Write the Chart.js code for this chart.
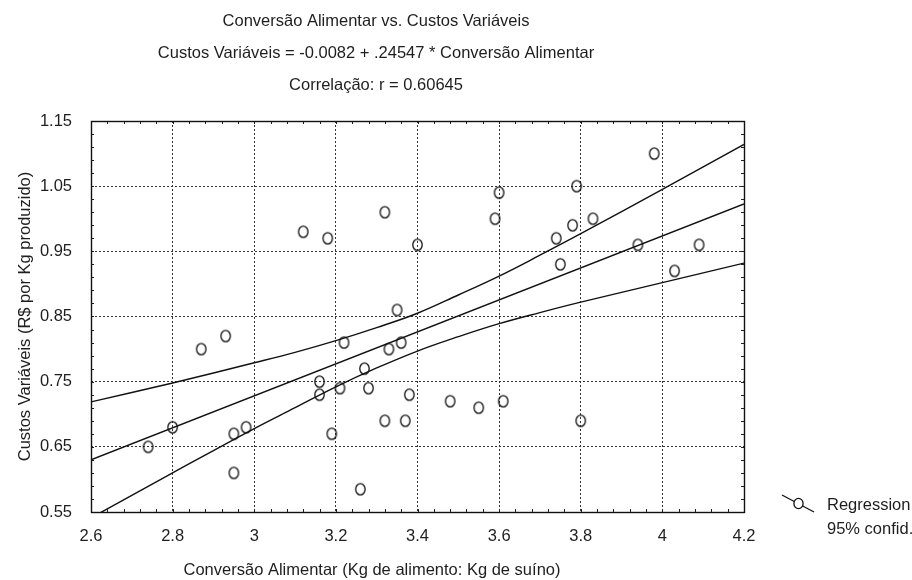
<!DOCTYPE html>
<html>
<head>
<meta charset="utf-8">
<script src="https://cdn.jsdelivr.net/npm/chart.js@4.4.0/dist/chart.umd.min.js"></script>
<style>
  html, body { margin: 0; padding: 0; background: #ffffff; }
  #wrap { width: 912px; height: 580px; }
</style>
</head>
<body>
<div id="wrap"><canvas id="chart" width="912" height="580"></canvas></div>
<script>
// ---- text ----
const titleLines = [
  'Conversão Alimentar vs. Custos Variáveis',
  'Custos Variáveis = -0.0082 + .24547 * Conversão Alimentar',
  'Correlação: r = 0.60645'
];
const xAxisTitle = 'Conversão Alimentar (Kg de alimento: Kg de suíno)';
const yAxisTitle = 'Custos Variáveis (R$ por Kg produzido)';
const legendLabels = ['Regression', '95% confid.'];

// ---- axes ----
const xTicks = [2.6, 2.8, 3.0, 3.2, 3.4, 3.6, 3.8, 4.0, 4.2];
const xTickLabels = ['2.6', '2.8', '3', '3.2', '3.4', '3.6', '3.8', '4', '4.2'];
const yTicks = [0.55, 0.65, 0.75, 0.85, 0.95, 1.05, 1.15];
const yTickLabels = ['0.55', '0.65', '0.75', '0.85', '0.95', '1.05', '1.15'];

// ---- observations ----
const conversao = [
  2.74, 2.80, 2.87, 2.93, 2.95, 2.95, 2.98,
  3.12, 3.16, 3.16, 3.18, 3.19, 3.21, 3.22,
  3.26, 3.27, 3.28, 3.32, 3.32, 3.33, 3.35, 3.36, 3.37, 3.38, 3.40,
  3.48, 3.55, 3.59, 3.60, 3.61,
  3.74, 3.75, 3.78, 3.79, 3.80, 3.83,
  3.94, 3.98, 4.03, 4.09
];
const custos = [
  0.65, 0.68, 0.80, 0.82, 0.67, 0.61, 0.68,
  0.98, 0.75, 0.73, 0.97, 0.67, 0.74, 0.81,
  0.585, 0.77, 0.74, 1.01, 0.69, 0.80, 0.86, 0.81, 0.69, 0.73, 0.96,
  0.72, 0.71, 1.00, 1.04, 0.72,
  0.97, 0.93, 0.99, 1.05, 0.69, 1.00,
  0.96, 1.10, 0.92, 0.96
];

// ---- fitted line (from the equation in the subtitle) ----
const intercept = -0.0082;
const slope = 0.24547;
const fitX = [2.6, 4.2];

// ---- 95% confidence band ----
const bandX     = [2.6,   2.8,   3.0,   3.1,   3.2,   3.3,   3.4,   3.5,   3.6,   3.7,   3.8,   4.0,   4.2];
const bandUpper = [0.719, 0.748, 0.779, 0.795, 0.813, 0.833, 0.855, 0.883, 0.912, 0.944, 0.977, 1.045, 1.114];
const bandLower = [0.541, 0.610, 0.678, 0.710, 0.742, 0.771, 0.797, 0.819, 0.839, 0.856, 0.872, 0.902, 0.932];

const FONT = '"Liberation Sans", Arial, sans-serif';
const FONT_SIZE = 16.5;
const INK = '#1e1e1e';

// hollow, slightly tall oval marker
function makeMarker() {
  const c = document.createElement('canvas');
  c.width = 13; c.height = 15;
  const g = c.getContext('2d');
  g.strokeStyle = '#111';
  g.lineWidth = 1.3;
  g.beginPath();
  g.ellipse(6.5, 7.5, 4.7, 5.6, 0, 0, Math.PI * 2);
  g.stroke();
  return c;
}
const marker = makeMarker();

const scatterPoints = conversao.map((x, i) => ({ x: x, y: custos[i] }));
const fitPoints = fitX.map(x => ({ x: x, y: intercept + slope * x }));
const upperPoints = bandX.map((x, i) => ({ x: x, y: bandUpper[i] }));
const lowerPoints = bandX.map((x, i) => ({ x: x, y: bandLower[i] }));

// frame, minor ticks, titles and legend
const decorations = {
  id: 'decorations',
  afterDraw(chart) {
    const { ctx, chartArea: a, scales } = chart;
    const xs = scales.x, ys = scales.y;
    ctx.save();

    // minor ticks on all four sides
    ctx.strokeStyle = '#222';
    ctx.lineWidth = 1;
    ctx.beginPath();
    for (let i = 0; i <= 40; i++) {
      const px = Math.round(xs.getPixelForValue(2.6 + i * 0.04)) + 0.5;
      ctx.moveTo(px, a.bottom); ctx.lineTo(px, a.bottom - 3);
      ctx.moveTo(px, a.top); ctx.lineTo(px, a.top + 3);
    }
    for (let i = 0; i <= 30; i++) {
      const py = Math.round(ys.getPixelForValue(0.55 + i * 0.02)) + 0.5;
      ctx.moveTo(a.left, py); ctx.lineTo(a.left + 3, py);
      ctx.moveTo(a.right, py); ctx.lineTo(a.right - 3, py);
    }
    ctx.stroke();

    // solid frame
    ctx.strokeStyle = '#111';
    ctx.lineWidth = 1.4;
    ctx.strokeRect(Math.round(a.left) + 0.5, Math.round(a.top) + 0.5,
                   Math.round(a.right - a.left), Math.round(a.bottom - a.top));

    // titles
    ctx.fillStyle = INK;
    ctx.font = FONT_SIZE + 'px ' + FONT;
    ctx.textAlign = 'center';
    ctx.textBaseline = 'middle';
    const tx = 376;
    titleLines.forEach((t, i) => ctx.fillText(t, tx, 21 + i * 32));

    // axis titles
    ctx.fillText(xAxisTitle, 372, 570);
    ctx.save();
    ctx.translate(25, (a.top + a.bottom) / 2);
    ctx.rotate(-Math.PI / 2);
    ctx.fillText(yAxisTitle, 0, 0);
    ctx.restore();

    // legend
    ctx.strokeStyle = '#111';
    ctx.lineWidth = 1.3;
    ctx.beginPath();
    ctx.moveTo(782, 495);
    ctx.lineTo(814, 512);
    ctx.stroke();
    ctx.fillStyle = '#ffffff';
    ctx.beginPath();
    ctx.ellipse(798.5, 503.5, 4.6, 5.2, 0, 0, Math.PI * 2);
    ctx.fill();
    ctx.stroke();
    ctx.fillStyle = INK;
    ctx.textAlign = 'left';
    ctx.fillText(legendLabels[0], 827, 505);
    ctx.fillText(legendLabels[1], 827, 529);

    ctx.restore();
  }
};

const lineStyle = {
  type: 'line',
  showLine: true,
  borderColor: '#111',
  borderWidth: 1.4,
  pointRadius: 0,
  pointHoverRadius: 0,
  fill: false
};

new Chart(document.getElementById('chart'), {
  type: 'scatter',
  data: {
    datasets: [
      Object.assign({ label: 'Regression', data: fitPoints }, lineStyle),
      Object.assign({ label: '95% upper', data: upperPoints, tension: 0.4 }, lineStyle),
      Object.assign({ label: '95% lower', data: lowerPoints, tension: 0.4 }, lineStyle),
      {
        label: 'Custos',
        data: scatterPoints,
        pointStyle: marker,
        pointRadius: 6,
        backgroundColor: 'rgba(0,0,0,0)',
        borderColor: '#111'
      }
    ]
  },
  options: {
    responsive: false,
    animation: false,
    devicePixelRatio: 1,
    layout: { padding: { top: 121, right: 168, bottom: 0, left: 0 } },
    plugins: {
      legend: { display: false },
      title: { display: false },
      tooltip: { enabled: false }
    },
    scales: {
      x: {
        type: 'linear',
        min: 2.6,
        max: 4.2,
        afterBuildTicks: axis => { axis.ticks = xTicks.map(v => ({ value: v })); },
        afterFit: axis => { axis.height = 68; },
        ticks: {
          autoSkip: false,
          maxRotation: 0,
          padding: 15,
          color: INK,
          font: { family: FONT, size: FONT_SIZE },
          callback: (v, i) => xTickLabels[i]
        },
        grid: { color: '#333', lineWidth: 1, drawTicks: false },
        border: { display: false, dash: [2, 2] }
      },
      y: {
        type: 'linear',
        min: 0.55,
        max: 1.15,
        afterBuildTicks: axis => { axis.ticks = yTicks.map(v => ({ value: v })); },
        afterFit: axis => { axis.width = 91; },
        ticks: {
          autoSkip: false,
          padding: 19,
          color: INK,
          font: { family: FONT, size: FONT_SIZE },
          callback: (v, i) => yTickLabels[i]
        },
        grid: { color: '#333', lineWidth: 1, drawTicks: false },
        border: { display: false, dash: [2, 2] }
      }
    }
  },
  plugins: [decorations]
});
</script>
</body>
</html>
